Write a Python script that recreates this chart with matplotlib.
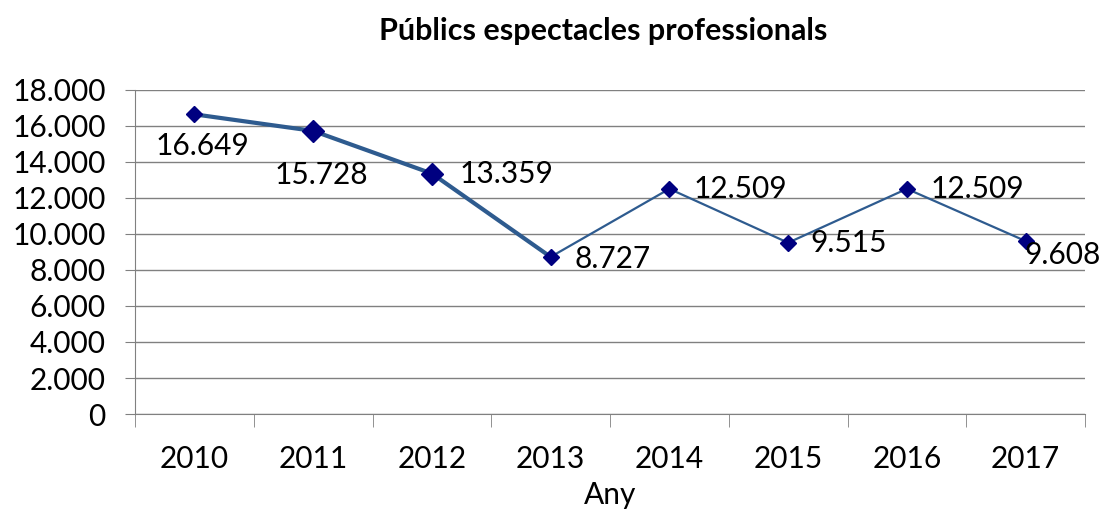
import matplotlib.pyplot as plt
from matplotlib.ticker import FuncFormatter

years = ['2010', '2011', '2012', '2013', '2014', '2015', '2016', '2017']
publics = [16649, 15728, 13359, 8727, 12509, 9515, 12509, 9608]

# label offsets in pixels (dx, dy) and alignment, like the reference
label_pos = [(8, -32, 'center'), (8, -44, 'center'), (28, 0, 'left'), (24, -2, 'left'),
             (24, 0, 'left'), (22, 0, 'left'), (24, 0, 'left'), (-1, -14, 'left')]

plt.rcParams['font.family'] = ['Lato', 'DejaVu Sans']
fs = 21.5

fig = plt.figure(figsize=(11.01, 5.09), dpi=100)
ax = fig.add_axes([135 / 1101, 1 - 414 / 509, 950 / 1101, 324 / 509])

x = list(range(len(years)))
line_col = '#2E5B8F'
mark_col = '#000080'

# first stretch drawn heavier, as in the original
ax.plot(x[:4], publics[:4], color=line_col, lw=3, zorder=3)
ax.plot(x[3:], publics[3:], color=line_col, lw=1.6, zorder=3)
sizes = [8, 11, 11, 8, 8, 8, 8, 8]
for xi, v, s in zip(x, publics, sizes):
    ax.plot(xi, v, marker='D', ms=s, color=mark_col, mec=mark_col, zorder=4)

def fmt(v, pos=None):
    return f'{int(v):,}'.replace(',', '.')

for xi, v, (dx, dy, ha) in zip(x, publics, label_pos):
    ax.annotate(fmt(v), (xi, v), xytext=(dx, dy), textcoords='offset pixels',
                ha=ha, va='center', fontsize=fs, color='black', zorder=5,
                annotation_clip=False)

ax.set_ylim(0, 18000)
ax.set_yticks(range(0, 18001, 2000))
ax.yaxis.set_major_formatter(FuncFormatter(fmt))
ax.set_xlim(-0.5, 7.5)
ax.set_xticks(x)
ax.set_xticklabels(years)
ax.set_xticks([i - 0.5 for i in range(len(years) + 1)], minor=True)
ax.tick_params(axis='x', which='major', length=0, pad=22, labelsize=fs)
ax.tick_params(axis='x', which='minor', length=9, color='#808080', direction='out')
ax.tick_params(axis='y', length=7, color='#808080', labelsize=fs, pad=14)

ax.grid(axis='y', color='#808080', lw=1)
ax.set_axisbelow(True)
for side in ['top', 'right']:
    ax.spines[side].set_visible(False)
for side in ['left', 'bottom']:
    ax.spines[side].set_color('#808080')

ax.set_xlabel('Any', fontsize=fs, labelpad=6)
fig.text(0.548, 0.94, 'Públics espectacles professionals', ha='center', va='center',
         fontsize=22, fontweight='bold')

fig.savefig('out.png', dpi=100)
